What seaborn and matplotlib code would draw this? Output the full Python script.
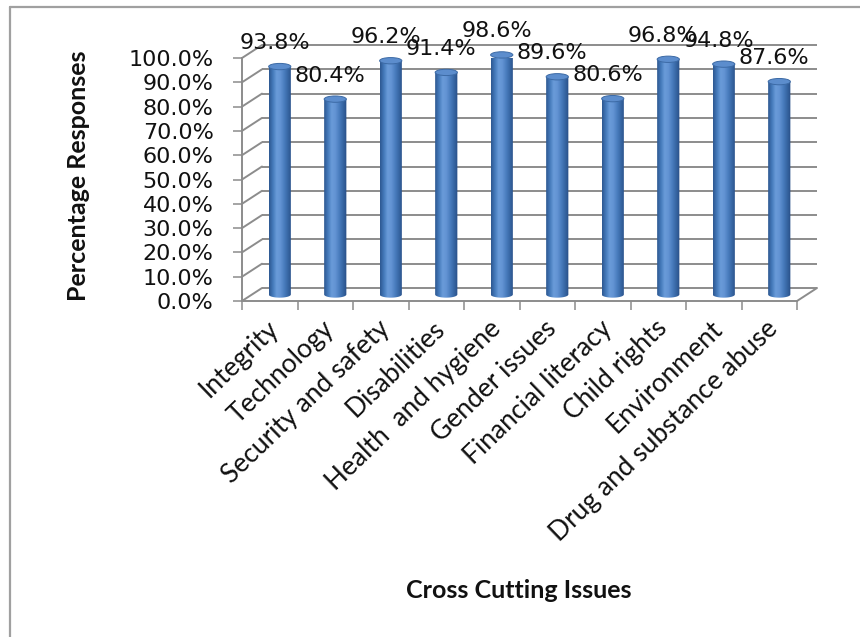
import matplotlib
matplotlib.use("Agg")
import numpy as np
import pandas as pd
import seaborn as sns
import matplotlib.pyplot as plt
from matplotlib.patches import Ellipse, PathPatch
from matplotlib.path import Path
from matplotlib.lines import Line2D
from matplotlib.transforms import Affine2D, ScaledTranslation
from matplotlib.colors import LinearSegmentedColormap

# ---- data -------------------------------------------------------------
issues = ["Integrity", "Technology", "Security and safety", "Disabilities",
          "Health  and hygiene", "Gender issues", "Financial literacy",
          "Child rights", "Environment", "Drug and substance abuse"]
responses = [93.8, 80.4, 96.2, 91.4, 98.6, 89.6, 80.6, 96.8, 94.8, 87.6]
y_ticks = [0, 10, 20, 30, 40, 50, 60, 70, 80, 90, 100]
y_tick_labels = [f"{t:.1f}%" for t in y_ticks]
x_title = "Cross Cutting Issues"
y_title = "Percentage Responses"

# ---- style ------------------------------------------------------------
sns.set_theme(style="white")
plt.rcParams["font.family"] = ["DejaVu Sans"]

GRID = "#8C8C8C"
TEXT = "#111111"
BAR = "#4F81BD"

W, H = 860, 637
fig = plt.figure(figsize=(W / 100, H / 100), dpi=100)
fig.patch.set_facecolor("white")


def frac(x0, y0, x1, y1):
    return [x0 / W, 1 - y1 / H, (x1 - x0) / W, (y1 - y0) / H]


# the axes is the front plane of the 3-D box
ax = fig.add_axes(frac(242, 58, 797, 301))
df = pd.DataFrame({"issue": issues, "response": responses})
sns.barplot(data=df, x="issue", y="response", order=issues, color=BAR,
            saturation=1, width=0.4, ax=ax, zorder=3)
ax.set_xlim(-0.5, 9.5)
ax.set_ylim(0, 100)

# depth of the box in data units; bars stand half way back
DX = 20 / (555 / 10)
DY = 13 / (243 / 100)
mid = Affine2D().translate(DX / 2, DY / 2) + ax.transData
back = Affine2D().translate(DX, DY) + ax.transData

# back wall, side wall and floor lines
for t in y_ticks:
    ax.plot([-0.5, 9.5], [t, t], transform=back, color=GRID, lw=1.4,
            clip_on=False, zorder=0.5, solid_capstyle="butt")
    ax.plot([-0.5, -0.5 + DX], [t, t + DY], color=GRID, lw=1.4,
            clip_on=False, zorder=0.5)
ax.plot([9.5, 9.5 + DX], [0, DY], color=GRID, lw=1.4, clip_on=False, zorder=0.5)

# cylinder shading
cyl = LinearSegmentedColormap.from_list(
    "cyl", ["#2D5790", "#4479BA", "#6A9BD9", "#6293D3", "#4A7DBE", "#3766A3", "#284E86"])
grad = np.linspace(0, 1, 128)[None, :]
CAP = 2.6  # ellipse height of the cylinder ends, data units

for p, v in zip(list(ax.patches), responses):
    x0, w = p.get_x(), p.get_width()
    h = p.get_height()
    cx = x0 + w / 2
    p.set_transform(mid)
    p.set_facecolor("none")
    p.set_edgecolor("none")
    p.set_clip_on(False)

    # outline of the cylinder body: straight sides and rounded bottom
    th = np.linspace(np.pi, 2 * np.pi, 40)
    verts = [(x0, h), (x0, 0)]
    verts += [(cx + w / 2 * np.cos(a), CAP / 2 * np.sin(a)) for a in th]
    verts += [(x0 + w, h), (x0, h)]
    body = PathPatch(Path(verts, closed=True), transform=mid,
                     facecolor="none", edgecolor="none")
    im = ax.imshow(grad, extent=(x0, x0 + w, -CAP / 2, h), transform=mid,
                   cmap=cyl, aspect="auto", interpolation="bilinear", zorder=2)
    im.set_clip_path(body)
    im.set_clip_box(None)

    ax.add_patch(Ellipse((cx, h), w, CAP, transform=mid, facecolor="#5C8DCD",
                         edgecolor="#3C6AA5", lw=0.7, zorder=4, clip_on=False))

    ax.annotate(f"{v:.1f}%", xy=(cx, h), xycoords=mid, xytext=(-3.6, 12.6),
                textcoords="offset points", ha="center", va="baseline",
                fontsize=16, color=TEXT, annotation_clip=False, zorder=6)

ax.set_xlim(-0.5, 9.5)
ax.set_ylim(0, 100)

# axes lines and ticks
sns.despine(ax=ax, top=True, right=True)
for side in ("left", "bottom"):
    ax.spines[side].set_color(GRID)
    ax.spines[side].set_linewidth(1.4)
    ax.spines[side].set_zorder(1)

ax.set_yticks(y_ticks)
ax.set_yticklabels(y_tick_labels, fontsize=16, color=TEXT)
ax.tick_params(axis="y", which="major", left=True, length=6.5, width=1.1,
               color=GRID, pad=14, direction="out")

ax.set_xticks(range(len(issues)))
ax.set_xticks(np.arange(-0.5, len(issues), 1.0), minor=True)
ax.set_xticklabels(issues, rotation=44, ha="right", va="center",
                   rotation_mode="anchor", fontsize=19, color=TEXT,
                   fontfamily="Lato")
ax.tick_params(axis="x", which="major", bottom=True, length=0, pad=17)
ax.tick_params(axis="x", which="minor", bottom=True, length=6.5, width=1.1,
               color=GRID, direction="out")
shift = ScaledTranslation(5 / 100, 0, fig.dpi_scale_trans)
for lbl in ax.get_xticklabels():
    lbl.set_transform(lbl.get_transform() + shift)

ax.set_xlabel("")
ax.set_ylabel("")
ax.patch.set_alpha(0)

# axis titles
fig.text(78 / W, 1 - 176 / H, y_title, rotation=90, ha="center", va="center",
         fontsize=18, fontweight="bold", fontfamily="Lato", color=TEXT)
fig.text(519 / W, 1 - 590 / H, x_title, ha="center", va="center",
         fontsize=18, fontweight="bold", fontfamily="Lato", color=TEXT)

# chart frame
fig.add_artist(Line2D([10 / W, 10 / W], [0, 1 - 7 / H], transform=fig.transFigure,
                      color="#A0A0A0", lw=1.6))
fig.add_artist(Line2D([10 / W, 1], [1 - 7 / H, 1 - 7 / H], transform=fig.transFigure,
                      color="#A0A0A0", lw=1.6))

fig.savefig("out.png", dpi=100)
